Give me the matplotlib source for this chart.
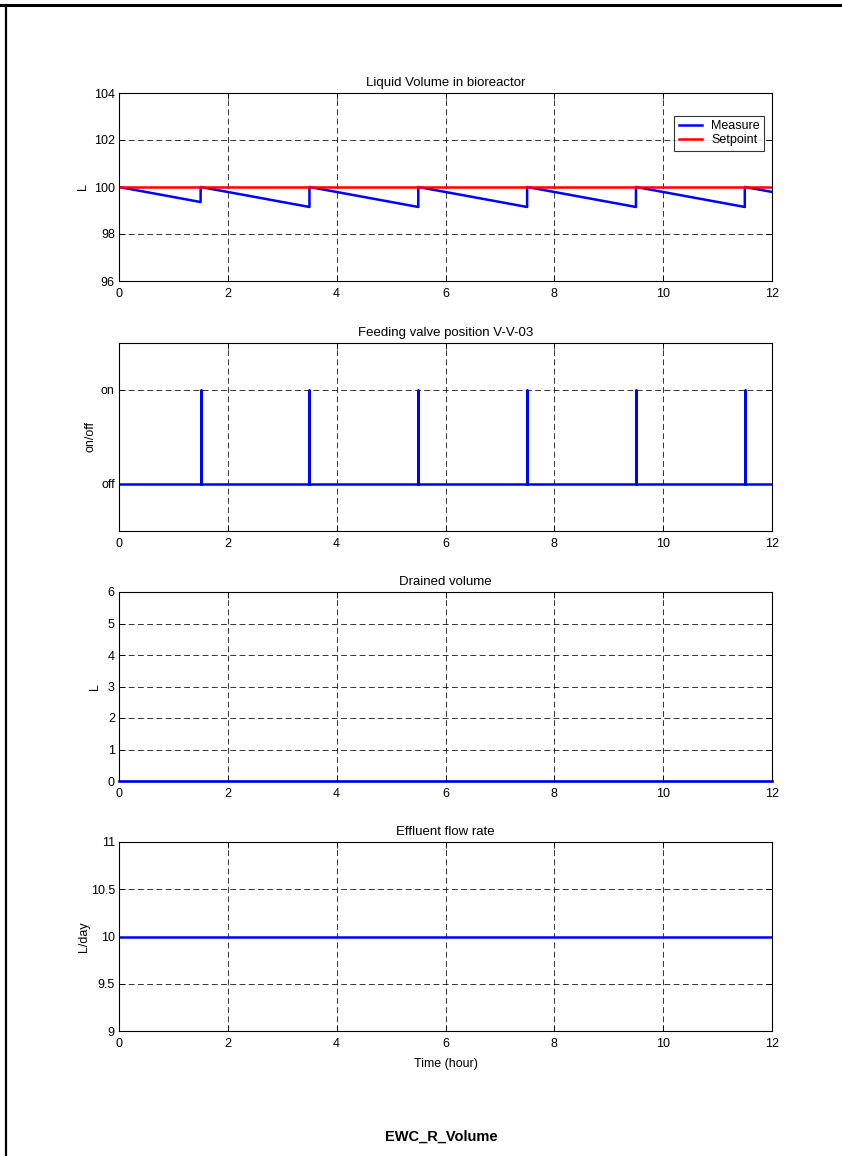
import matplotlib
matplotlib.use("Agg")
import matplotlib.pyplot as plt
from matplotlib.lines import Line2D

plt.rcParams['font.family'] = ['Liberation Sans', 'DejaVu Sans']
plt.rcParams['font.size'] = 9

# data
meas_t = [0, 1.5, 1.5, 3.5, 3.5, 5.5, 5.5, 7.5, 7.5, 9.5, 9.5, 11.5, 11.5, 12]
meas_v = [100, 99.36, 100, 99.15, 100, 99.15, 100, 99.15, 100, 99.15, 100, 99.15, 100, 99.79]
setpoint_t = [0, 12]
setpoint_v = [100, 100]

valve_t = [0, 1.5, 1.5, 1.5, 3.5, 3.5, 3.5, 5.5, 5.5, 5.5, 7.5, 7.5, 7.5,
           9.5, 9.5, 9.5, 11.5, 11.5, 11.5, 12]
valve_v = [0, 0, 1, 0, 0, 1, 0, 0, 1, 0, 0, 1, 0, 0, 1, 0, 0, 1, 0, 0]

drained_t = [0, 12]
drained_v = [0, 0]

effluent_t = [0, 12]
effluent_v = [10, 10]

xticks = [0, 2, 4, 6, 8, 10, 12]

fig = plt.figure(figsize=(8.42, 11.56), dpi=100)

left, width = 119 / 842, 653 / 842
H = 1156
boxes = [(93, 281), (343, 531), (592, 781), (842, 1031)]
axes = []
for top, bot in boxes:
    ax = fig.add_axes([left, 1 - bot / H, width, (bot - top) / H])
    axes.append(ax)


def style(ax):
    ax.set_xlim(0, 12)
    ax.set_xticks(xticks)
    ax.grid(True, color='black', linestyle=(0, (6, 3.5)), linewidth=0.7, alpha=0.8)
    ax.tick_params(direction='in', top=True, right=True, length=4, width=0.6,
                   labelsize=9)
    ax.tick_params(axis='x', pad=5)
    ax.tick_params(axis='y', pad=3)
    for s in ax.spines.values():
        s.set_linewidth(0.8)


ax1, ax2, ax3, ax4 = axes

# Liquid volume
ax1.plot(meas_t, meas_v, color='blue', linewidth=1.8, label='Measure')
ax1.plot(setpoint_t, setpoint_v, color='red', linewidth=1.8, label='Setpoint')
ax1.set_ylim(96, 104)
ax1.set_yticks([96, 98, 100, 102, 104])
ax1.set_title('Liquid Volume in bioreactor', fontsize=9.5, pad=5)
ax1.set_ylabel('L', fontsize=9)
style(ax1)
leg = ax1.legend(loc='upper right', bbox_to_anchor=(0.988, 0.878), fontsize=9,
                 frameon=True, fancybox=False, edgecolor='black',
                 handlelength=1.9, borderpad=0.35, labelspacing=0.15,
                 handletextpad=0.7, borderaxespad=0)
leg.get_frame().set_linewidth(0.8)

# Feeding valve
ax2.plot(valve_t, valve_v, color='blue', linewidth=1.8)
ax2.set_ylim(-0.5, 1.5)
ax2.set_yticks([0, 1])
ax2.set_yticklabels(['off', 'on'])
ax2.set_title('Feeding valve position V-V-03', fontsize=9.5, pad=5)
ax2.set_ylabel('on/off', fontsize=9)
style(ax2)

# Drained volume
ax3.plot(drained_t, drained_v, color='blue', linewidth=1.9, clip_on=False)
ax3.set_ylim(0, 6)
ax3.set_yticks([0, 1, 2, 3, 4, 5, 6])
ax3.set_title('Drained volume', fontsize=9.5, pad=5)
ax3.set_ylabel('L', fontsize=9)
style(ax3)

# Effluent flow rate
ax4.plot(effluent_t, effluent_v, color='blue', linewidth=1.8)
ax4.set_ylim(9, 11)
ax4.set_yticks([9, 9.5, 10, 10.5, 11])
ax4.set_yticklabels(['9', '9.5', '10', '10.5', '11'])
ax4.set_title('Effluent flow rate', fontsize=9.5, pad=5)
ax4.set_ylabel('L/day', fontsize=9)
ax4.set_xlabel('Time (hour)', fontsize=9, labelpad=6)
style(ax4)

# ylabel offsets follow the tick label widths, as in the reference
for ax, xoff in zip(axes, [-0.046, -0.035, -0.028, -0.044]):
    ax.yaxis.set_label_coords(xoff, 0.5)

fig.text(441 / 842, 1 - 1137 / H, 'EWC_R_Volume', ha='center', va='center',
         fontsize=10.5, fontweight='bold')

# page frame (top and left edges)
fig.add_artist(Line2D([0, 1], [1 - 5 / H, 1 - 5 / H], color='black', linewidth=2.2,
                      transform=fig.transFigure))
fig.add_artist(Line2D([6 / 842, 6 / 842], [0, 1 - 5 / H], color='black', linewidth=1.6,
                      transform=fig.transFigure))

fig.savefig('out.png', dpi=100)
